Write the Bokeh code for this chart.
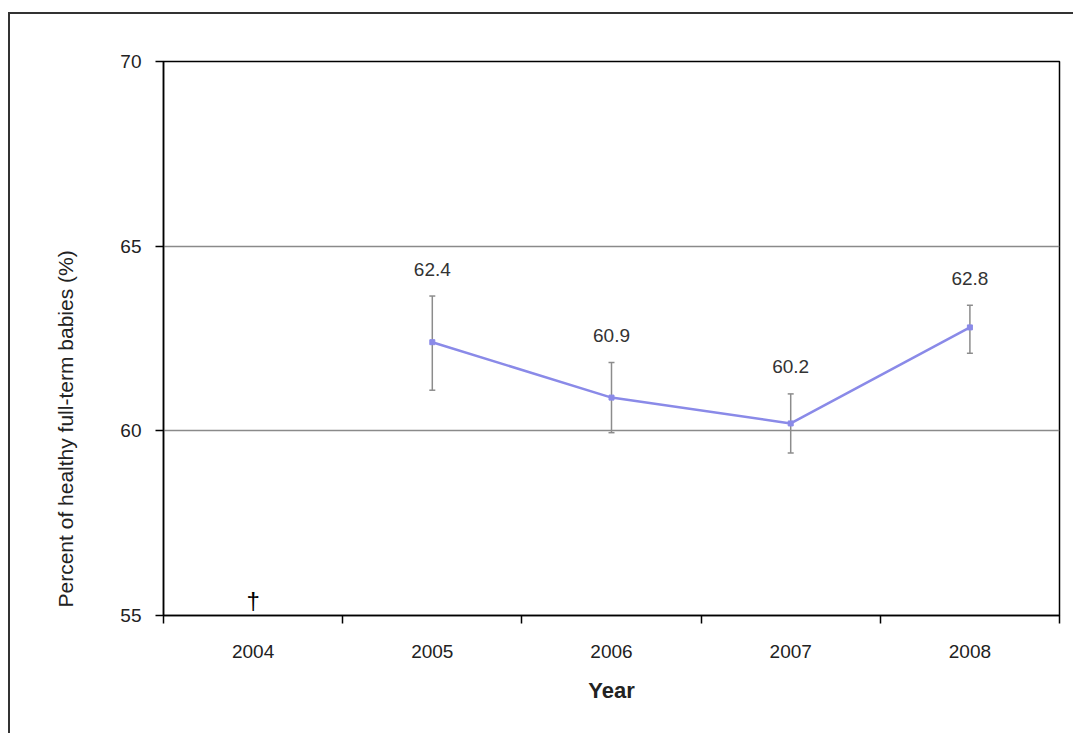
from bokeh.plotting import figure
from bokeh.models import Range1d, FixedTicker, Title, ColumnDataSource
from bokeh.core.properties import value
from bokeh.embed import file_html
from bokeh.resources import INLINE

# ---- data ----
years = ["2004", "2005", "2006", "2007", "2008"]
pct_years = ["2005", "2006", "2007", "2008"]
pct_values = [62.4, 60.9, 60.2, 62.8]
ci_lower = [61.1, 59.95, 59.4, 62.1]
ci_upper = [63.65, 61.85, 61.0, 63.4]
missing_years = ["2004"]
missing_marks = ["\u2020"]
y_ticks = [55, 60, 65, 70]

FONT = "Liberation Sans"

xpos = {y: i + 0.5 for i, y in enumerate(years)}
src = ColumnDataSource(dict(
    x=[xpos[y] for y in pct_years],
    v=pct_values,
    lo=ci_lower,
    hi=ci_upper,
    lab=["%.1f" % v for v in pct_values],
))

p = figure(
    output_backend="svg", toolbar_location=None,
    frame_width=896, frame_height=554,
    x_range=Range1d(0, len(years)), y_range=Range1d(55, 70),
    min_border_left=151, min_border_right=14, min_border_top=47, min_border_bottom=118,
    background_fill_color="white", border_fill_color="white",
)
p.styles = {"border-left": "2px solid #333", "border-top": "2px solid #333",
            "margin-left": "8px", "margin-top": "12px"}
p.outline_line_color = "black"
p.outline_line_width = 1.5

# x axis: labels at category centers, tick marks at category boundaries
xa = p.xaxis[0]
xa.ticker = FixedTicker(ticks=[xpos[y] for y in years],
                        minor_ticks=list(range(len(years) + 1)))
xa.major_label_overrides = {xpos[y]: y for y in years}
xa.major_tick_line_color = None
xa.minor_tick_line_color = "black"
xa.minor_tick_line_width = 1.5
xa.minor_tick_out = 8
xa.minor_tick_in = 0
xa.axis_line_color = "black"
xa.axis_line_width = 1.5
xa.major_label_text_font = FONT
xa.major_label_text_font_size = "19px"
xa.major_label_text_color = "#222"
xa.major_label_standoff = 21
xa.axis_label = "Year"
xa.axis_label_text_font = FONT
xa.axis_label_text_font_style = "bold"
xa.axis_label_text_font_size = "22px"
xa.axis_label_text_color = "#222"
xa.axis_label_standoff = 17

ya = p.yaxis[0]
ya.ticker = FixedTicker(ticks=y_ticks, minor_ticks=[])
ya.major_tick_out = 8
ya.major_tick_in = 0
ya.major_tick_line_width = 1.5
ya.axis_line_width = 1.5
ya.axis_line_color = "black"
ya.major_label_text_font = FONT
ya.major_label_text_font_size = "19px"
ya.major_label_text_color = "#222"
ya.major_label_standoff = 14

p.xgrid.visible = False
p.ygrid.ticker = FixedTicker(ticks=y_ticks)
p.ygrid.grid_line_color = "#8a8a8a"
p.ygrid.grid_line_width = 1.5

# y axis title, placed lower than frame center as in the reference
p.add_layout(Title(text="Percent of healthy full-term babies (%)", align="left",
                   offset=8, standoff=82, text_font=FONT, text_font_size="21px",
                   text_font_style="normal", text_color="#222"), "left")

# error bars
p.segment(x0="x", y0="lo", x1="x", y1="hi", source=src, line_color="#8c8c8c", line_width=1.5)
p.scatter(x="x", y="lo", source=src, marker="dash", size=6, line_color="#8c8c8c", line_width=1.5)
p.scatter(x="x", y="hi", source=src, marker="dash", size=6, line_color="#8c8c8c", line_width=1.5)

# line + markers
p.line(x="x", y="v", source=src, line_color="#8a8ae8", line_width=2.5)
p.scatter(x="x", y="v", source=src, marker="square", size=5, fill_color="#8a8ae8",
          line_color="#8a8ae8")

# value labels
p.text(x="x", y="hi", text="lab", source=src, y_offset=-27,
       text_align="center", text_baseline="middle",
       text_font=value(FONT), text_font_size="19px", text_color="#333")

# dagger for missing year
p.text(x=[xpos[y] for y in missing_years], y=[55] * len(missing_years), text=missing_marks,
       text_align="center", text_baseline="bottom", y_offset=-2,
       text_font=value(FONT), text_font_size="24px", text_color="black")

open("out.html", "w").write(file_html(p, INLINE))
